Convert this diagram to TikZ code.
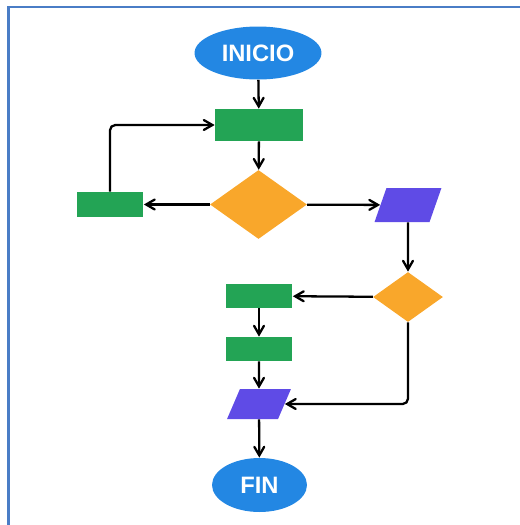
\documentclass[tikz,border=0pt]{standalone}
\usepackage{fontspec}
\setmainfont{Liberation Sans}
\usepackage{xcolor}
\usetikzlibrary{arrows,calc,positioning,shapes.geometric}

\definecolor{startblue}{HTML}{2387E3}
\definecolor{procgreen}{HTML}{23A455}
\definecolor{decorange}{HTML}{F9A72B}
\definecolor{iopurple}{HTML}{5F4BE6}
\definecolor{frameblue}{HTML}{4A7DC6}

\begin{document}
\begin{tikzpicture}[x=0.02cm,y=-0.02cm,>=angle 60,
	terminal/.style={ellipse,fill=startblue,text=white,inner sep=0pt,font=\fontsize{13.5}{16}\selectfont\bfseries},
	proc/.style={rectangle,fill=procgreen,inner sep=0pt,minimum width=1.34cm,minimum height=0.48cm},
	decision/.style={diamond,fill=decorange,inner sep=0pt},
	io/.style={rectangle,fill=iopurple,inner sep=0pt,transform shape},
	flow/.style={->,line width=1.3pt,rounded corners=3pt}]
	\useasboundingbox (0,0) rectangle (520,525);
	% frame along the top and left edges
	\draw[frameblue,line width=0.05cm] (8.5,525) -- (8.5,7) -- (520,7);
	% nodes
	\node[terminal,minimum width=2.54cm,minimum height=1.06cm] (inicio) at (258,53) {INICIO};
	\node[proc,minimum width=1.76cm,minimum height=0.64cm] (proc1) at (259,125) {};
	\node[decision,minimum width=1.94cm,minimum height=1.38cm] (dec1) at (258.5,204.5) {};
	\node[proc,minimum height=0.5cm] (proc0) at (110,204.5) {};
	\node[io,xslant=0.35,minimum width=1.1cm,minimum height=0.68cm] (io1) at (408,205) {};
	\node[decision,minimum width=1.4cm,minimum height=1.0cm] (dec2) at (408,297) {};
	\node[proc] (proc2) at (259,296) {};
	\node[proc] (proc3) at (259,349) {};
	\node[io,xslant=0.43,minimum width=1.02cm,minimum height=0.6cm] (io2) at (259,404) {};
	\node[terminal,minimum width=1.9cm,minimum height=1.08cm] (fin) at (259.5,485) {FIN};
	% connectors
	\foreach \a/\b in {inicio/proc1,proc1/dec1,dec1/proc0,dec1/io1,io1/dec2,dec2/proc2,proc2/proc3,proc3/io2,io2/fin}
		\draw[flow] (\a) -- (\b);
	\draw[flow] (proc0.north) |- (proc1.west);
	\draw[flow] (dec2.south) |- (io2.east);
\end{tikzpicture}
\end{document}
